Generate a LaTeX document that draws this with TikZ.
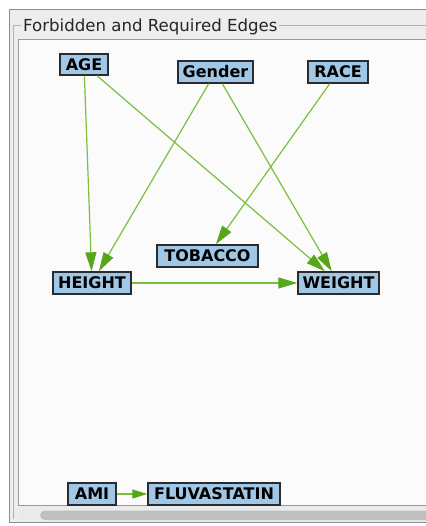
\documentclass[tikz,border=0pt]{standalone}
\usepackage{fontspec}
\setmainfont{DejaVu Sans}
\usetikzlibrary{arrows.meta}
\definecolor{boxfill}{RGB}{160,200,230}
\definecolor{boxline}{RGB}{40,44,48}
\definecolor{edgegreen}{RGB}{122,192,60}
\definecolor{headgreen}{RGB}{86,168,26}
\definecolor{winbg}{RGB}{237,237,237}
\definecolor{panelbg}{RGB}{251,251,251}
\tikzset{
  var/.style={draw=boxline, line width=1.4pt, fill=boxfill, inner sep=0pt,
    minimum height=22pt, font=\bfseries\fontsize{16}{16}\selectfont, text=black},
  edge/.style={draw=edgegreen, line width=1.2pt,
    -{Triangle[length=19pt,width=11pt,fill=headgreen,color=headgreen]}},
  shortedge/.style={draw=edgegreen, line width=1.2pt,
    -{Triangle[length=15pt,width=9pt,fill=headgreen,color=headgreen]}}
}
\begin{document}
\begin{tikzpicture}[x=1pt,y=-1pt]
\useasboundingbox (0,0) rectangle (425,526);
\fill[white] (0,0) rectangle (425,526);
% outer window frame
\draw[draw=black!45, fill=winbg, line width=0.8pt] (430,9.5) -- (9,9.5) -- (9,522.5) -- (430,522.5);
% group border
\draw[draw=black!30, line width=0.8pt] (430,25) -- (13,25) -- (13,519);
% panel
\draw[draw=black!40, fill=panelbg, line width=0.8pt] (430,39) -- (18,39) -- (18,505) -- (430,505);
% scrollbar
\fill[black!8] (18.5,505.5) rectangle (430,521);
\fill[black!25, rounded corners=5pt] (40,510.5) rectangle (440,520);
% title
\node[fill=winbg, inner xsep=2pt, inner ysep=1pt, anchor=west, font=\fontsize{16.6}{16.6}\selectfont, text=black!85]
  (title) at (21,27) {Forbidden and Required Edges};
% nodes
\node[var, minimum width=48pt, minimum height=21pt] (age) at (84,64.5) {AGE};
\node[var, minimum width=75pt] (gender) at (215.5,72) {Gender};
\node[var, minimum width=60pt] (race) at (338,72) {RACE};
\node[var, minimum width=101pt] (tobacco) at (207.5,256) {TOBACCO};
\node[var, minimum width=78pt] (height) at (92,283) {HEIGHT};
\node[var, minimum width=81pt] (weight) at (338.5,283) {WEIGHT};
\node[var, minimum width=48pt] (ami) at (92,494) {AMI};
\node[var, minimum width=132pt] (fluva) at (214,494) {FLUVASTATIN};
% edges
\draw[edge] (age) -- (height);
\draw[edge] (age) -- (weight);
\draw[edge] (gender) -- (height);
\draw[edge] (gender) -- (weight);
\draw[edge] (race) -- (tobacco);
\draw[edge] (height) -- (weight);
\draw[shortedge] (ami) -- (fluva);
\end{tikzpicture}
\end{document}
